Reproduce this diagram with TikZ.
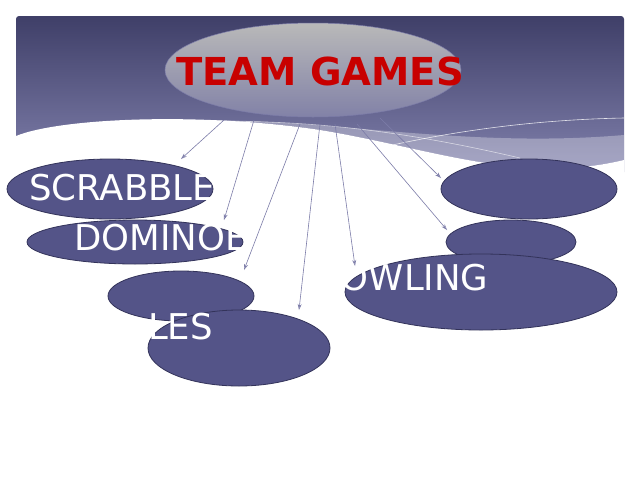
\documentclass[tikz,border=0pt]{standalone}
\usepackage{fontspec}
\setmainfont{DejaVu Sans}
\usetikzlibrary{shapes.geometric,arrows.meta}
\definecolor{bandtop}{HTML}{3F3F68}
\definecolor{bandbot}{HTML}{8282AE}
\definecolor{ell}{HTML}{545488}
\definecolor{ellline}{HTML}{33335A}
\definecolor{arr}{HTML}{7C7CA8}
\begin{document}
\begin{tikzpicture}[x=1pt,y=-1pt,
  game/.style={ellipse,fill=ell,draw=ellline,line width=0.8pt,inner sep=0pt},
  lbl/.style={text=white,font=\fontsize{35.5}{35.5}\selectfont,anchor=west,inner sep=0pt},
  link/.style={draw=arr,line width=0.6pt,-{Stealth[length=6pt,width=4pt,open]}}]
\useasboundingbox (0,0) rectangle (640,480);
\fill[white] (0,0) rectangle (640,480);
% banner
\path[top color=bandtop,bottom color=bandbot,rounded corners=3pt]
  (16,175) -- (16,16) -- (624,16) -- (624,175) -- cycle;
\fill[white] (16,136) .. controls (60,118) and (200,112) .. (320,130)
  .. controls (430,148) and (520,185) .. (624,160) -- (624,200) -- (16,200) -- cycle;
\fill[white,opacity=0.3] (160,122) .. controls (300,112) and (450,150) .. (624,135)
  -- (624,160) .. controls (520,185) and (430,148) .. (320,130) .. controls (260,121) and (200,119) .. (160,122) -- cycle;
\draw[white,opacity=0.8,line width=0.6pt] (320,163) .. controls (420,135) and (520,120) .. (624,118);
\draw[white,opacity=0.6,line width=0.6pt] (180,122) .. controls (300,118) and (400,130) .. (520,158);
% title
\node[ellipse,minimum width=296pt,minimum height=94pt,top color=gray!55!white,bottom color=bandbot!85!gray,draw=arr,line width=0.5pt,inner sep=0pt] (t) at (313,70) {};
\node[text={rgb,255:red,200;green,0;blue,0},font=\bfseries\fontsize{38.5}{38.5}\selectfont,inner sep=0pt] (tt) at (320,71) {TEAM GAMES};
% games
\node[game,minimum width=206pt,minimum height=60pt] (g1) at (110,189) {};
\node[game,minimum width=216pt,minimum height=44pt] (g2) at (135,242) {};
\node[game,minimum width=146pt,minimum height=50pt] (g3) at (181,296) {};
\node[game,minimum width=182pt,minimum height=76pt] (g4) at (239,348) {};
\node[game,minimum width=176pt,minimum height=60pt] (g5) at (529,189) {};
\node[game,minimum width=130pt,minimum height=44pt] (g6) at (511,242) {};
\node[game,minimum width=272pt,minimum height=76pt] (g7) at (481,292) {};
\node[lbl] (l1) at (29,188) {SCRABBLE};
\node[lbl] (l2) at (74,238) {DOMINOES};
\node[lbl] (l3) at (148,327) {LES};
\node[lbl] (l4) at (317,278) {BOWLING};
% connectors
\coordinate (s1) at (224,120); \coordinate (s2) at (254,120);
\coordinate (s3) at (300,124); \coordinate (s4) at (320,124);
\coordinate (s5) at (335,124); \coordinate (s6) at (357,124);
\coordinate (s7) at (380,118);
\coordinate (a1) at (181,159); \coordinate (a2) at (224,220);
\coordinate (a3) at (244,270); \coordinate (a4) at (299,310);
\coordinate (a5) at (355,266); \coordinate (a6) at (447,230);
\coordinate (a7) at (441,178);
\draw[link] (s1) -- (a1);
\draw[link] (s2) -- (a2);
\draw[link] (s3) -- (a3);
\draw[link] (s4) -- (a4);
\draw[link] (s5) -- (a5);
\draw[link] (s6) -- (a6);
\draw[link] (s7) -- (a7);
\end{tikzpicture}
\end{document}
